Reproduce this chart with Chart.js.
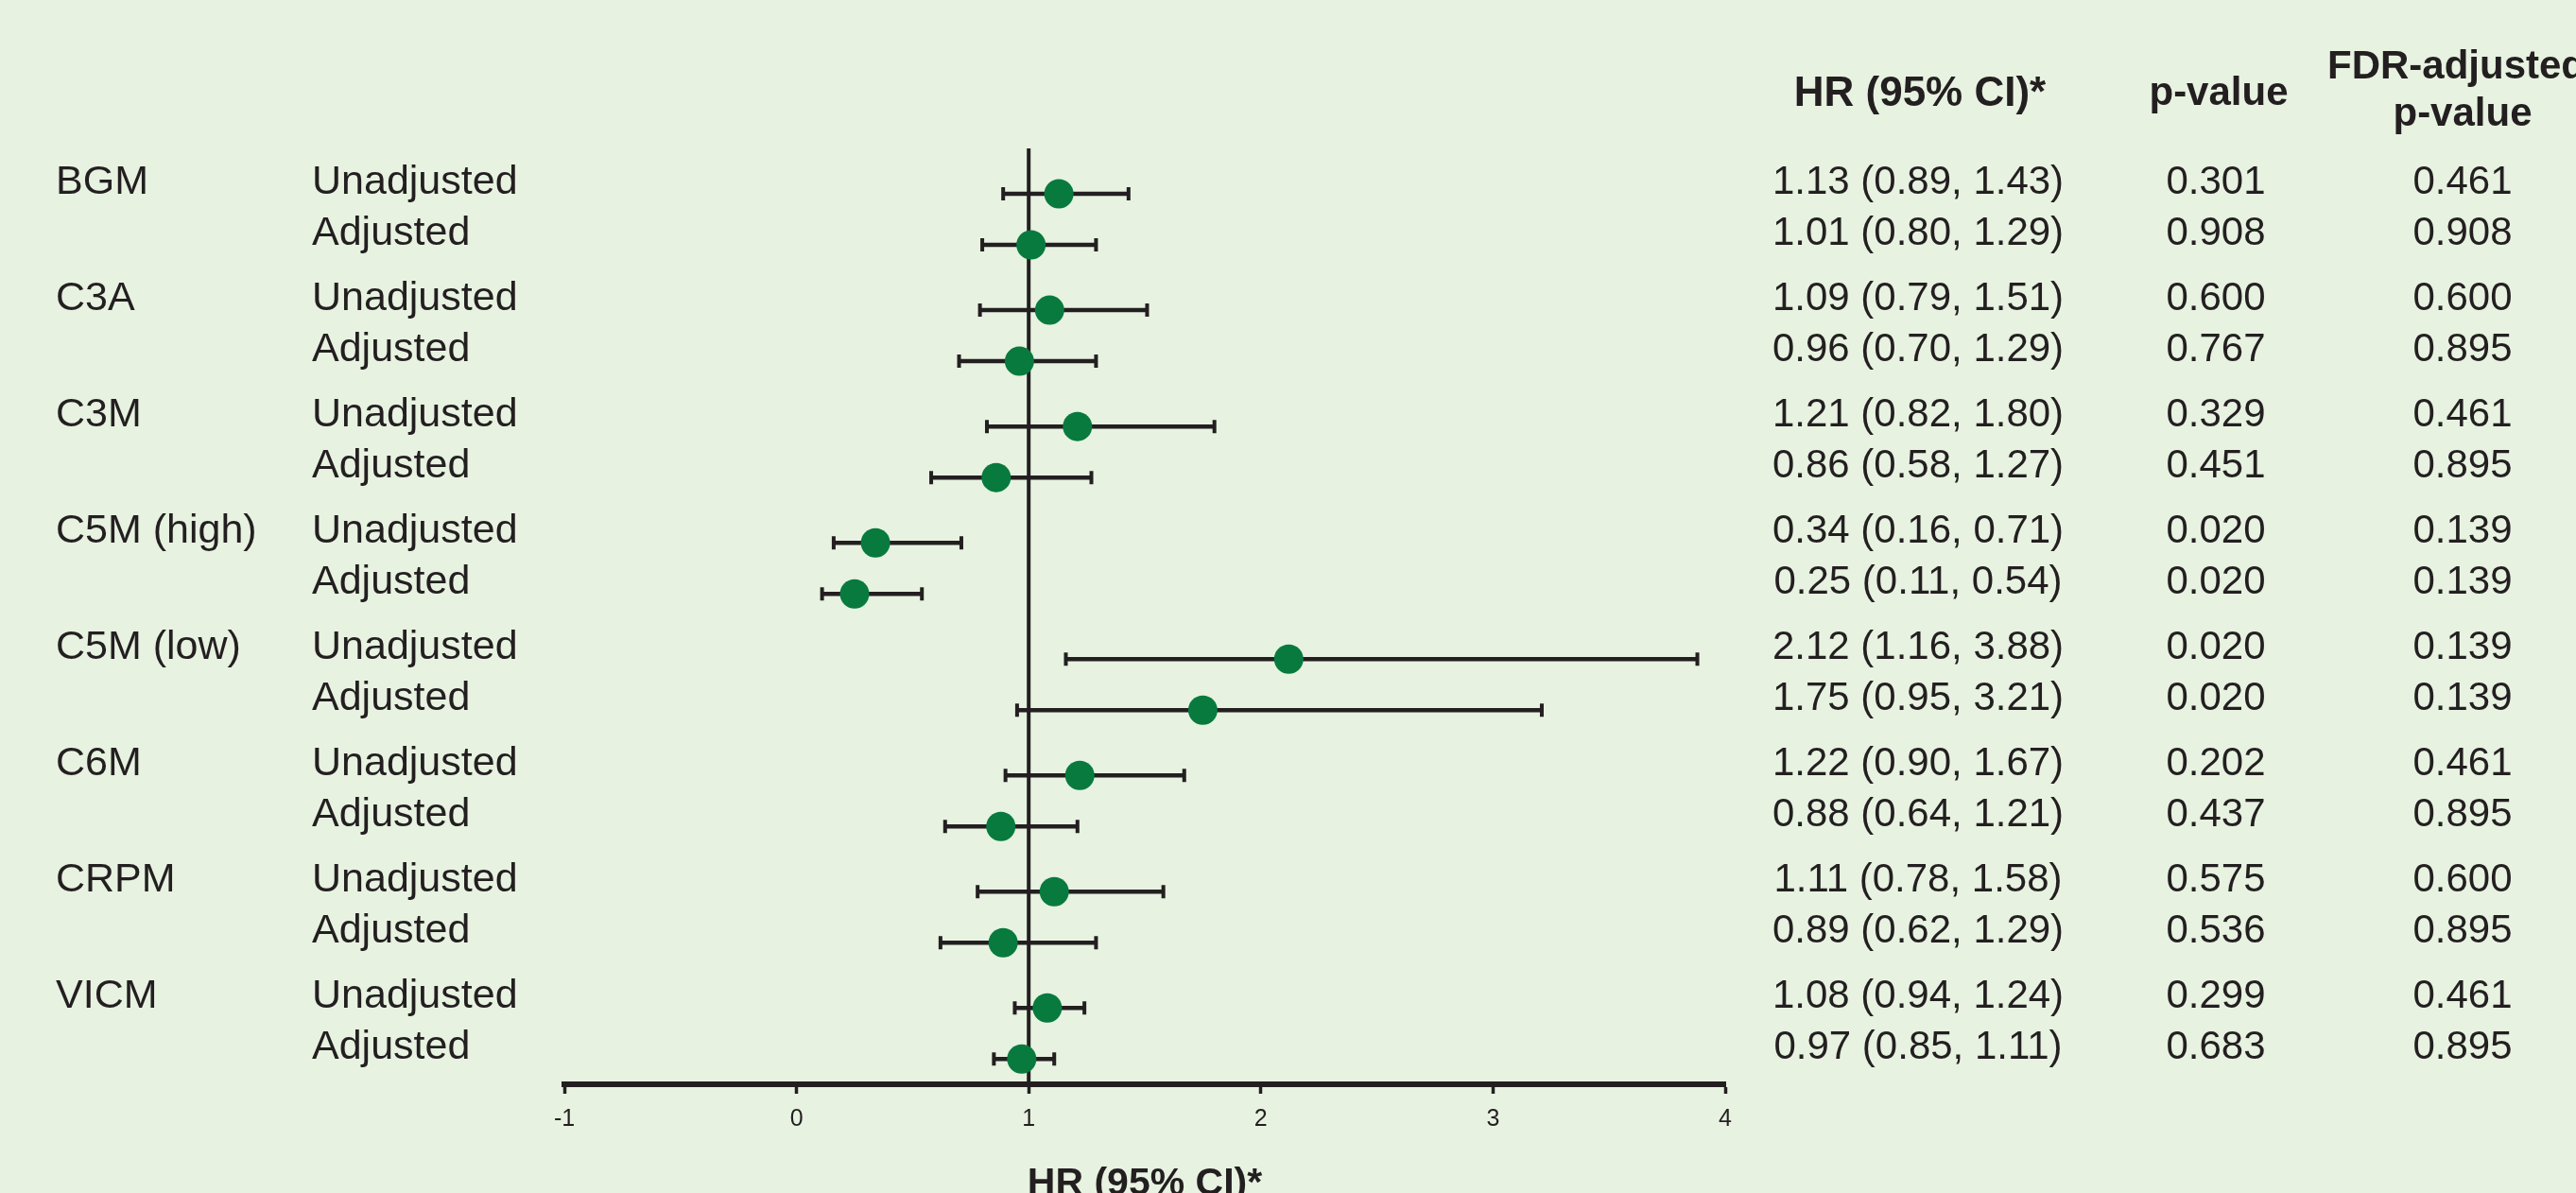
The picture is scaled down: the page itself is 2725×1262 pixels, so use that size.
<!DOCTYPE html>
<html>
<head>
<meta charset="utf-8">
<script src="https://cdn.jsdelivr.net/npm/chart.js@4"></script>
<style>
  body { margin: 0; background: #e7f2e1; }
  canvas { display: block; }
</style>
</head>
<body>
<canvas id="forest" width="2725" height="1262"></canvas>
<script>
"use strict"
// forest plot data
var groups = ["BGM", "C3A", "C3M", "C5M (high)", "C5M (low)", "C6M", "CRPM", "VICM"];
var models = ["Unadjusted", "Adjusted"];
var hr    = [1.13, 1.01, 1.09, 0.96, 1.21, 0.86, 0.34, 0.25, 2.12, 1.75, 1.22, 0.88, 1.11, 0.89, 1.08, 0.97];
var lower = [0.89, 0.80, 0.79, 0.70, 0.82, 0.58, 0.16, 0.11, 1.16, 0.95, 0.90, 0.64, 0.78, 0.62, 0.94, 0.85];
var upper = [1.43, 1.29, 1.51, 1.29, 1.80, 1.27, 0.71, 0.54, 3.88, 3.21, 1.67, 1.21, 1.58, 1.29, 1.24, 1.11];
var pValue = ["0.301", "0.908", "0.600", "0.767", "0.329", "0.451", "0.020", "0.020", "0.020", "0.020", "0.202", "0.437", "0.575", "0.536", "0.299", "0.683"];
var fdrValue = ["0.461", "0.908", "0.600", "0.895", "0.461", "0.895", "0.139", "0.139", "0.139", "0.139", "0.461", "0.895", "0.600", "0.895", "0.461", "0.895"];
var xTicks = [-1, 0, 1, 2, 3, 4];

var ink = "#231f20";
var green = "#087a3e";
var font = "'Liberation Sans', Arial, sans-serif";

// row layout: two rows per marker, wider gap between markers
var rowY = [];
hr.forEach(function(v, i) {
  rowY.push(Math.floor(i / 2) * 2.278 + (i % 2));
});

function fmt(v) { return v.toFixed(2); }

var forestPlugin = {
  id: "forest",
  beforeDraw: function(chart) {
    var ctx = chart.ctx;
    ctx.save();
    ctx.fillStyle = "#e7f2e1";
    ctx.fillRect(0, 0, chart.width, chart.height);
    ctx.restore();
  },
  beforeDatasetsDraw: function(chart) {
    var ctx = chart.ctx, xs = chart.scales.x, ys = chart.scales.y;
    var area = chart.chartArea;
    ctx.save();
    ctx.strokeStyle = ink;
    // line of no effect at HR = 1
    ctx.lineWidth = 4;
    ctx.beginPath();
    ctx.moveTo(xs.getPixelForValue(1), area.top);
    ctx.lineTo(xs.getPixelForValue(1), area.bottom);
    ctx.stroke();
    // confidence intervals with end caps
    hr.forEach(function(v, i) {
      var y = ys.getPixelForValue(rowY[i]);
      var x0 = xs.getPixelForValue(lower[i]);
      var x1 = xs.getPixelForValue(upper[i]);
      ctx.lineWidth = 4.5;
      ctx.beginPath();
      ctx.moveTo(x0, y);
      ctx.lineTo(x1, y);
      ctx.stroke();
      ctx.lineWidth = 4;
      ctx.beginPath();
      ctx.moveTo(x0, y - 7);
      ctx.lineTo(x0, y + 7);
      ctx.moveTo(x1, y - 7);
      ctx.lineTo(x1, y + 7);
      ctx.stroke();
    });
    ctx.restore();
  },
  afterDraw: function(chart) {
    var ctx = chart.ctx, ys = chart.scales.y;
    ctx.save();
    ctx.fillStyle = ink;
    ctx.textBaseline = "alphabetic";
    // column headers
    ctx.font = "bold 44px " + font;
    ctx.textAlign = "center";
    ctx.fillText("HR (95% CI)*", 2031, 112);
    ctx.font = "bold 42px " + font;
    ctx.fillText("p-value", 2347, 111);
    ctx.fillText("p-value", 2605, 133);
    ctx.textAlign = "left";
    ctx.fillText("FDR-adjusted", 2462, 83);
    // rows
    hr.forEach(function(v, i) {
      var y = ys.getPixelForValue(rowY[i]);
      ctx.font = "43px " + font;
      ctx.textAlign = "left";
      if (i % 2 === 0) ctx.fillText(groups[i / 2], 59, y);
      ctx.fillText(models[i % 2], 330, y);
      ctx.font = "42px " + font;
      ctx.textAlign = "center";
      ctx.fillText(fmt(v) + " (" + fmt(lower[i]) + ", " + fmt(upper[i]) + ")", 2029, y);
      ctx.fillText(pValue[i], 2344, y);
      ctx.fillText(fdrValue[i], 2605, y);
    });
    ctx.restore();
  }
};

var forestChart = new Chart(document.getElementById("forest"), {
  type: "scatter",
  data: {
    datasets: [{
      data: hr.map(function(v, i) { return {x: v, y: rowY[i]}; }),
      backgroundColor: green,
      borderWidth: 0,
      pointRadius: 15.5,
      pointHoverRadius: 15.5
    }]
  },
  options: {
    responsive: false,
    animation: false,
    events: [],
    layout: { padding: { left: 597, right: 900, top: 157, bottom: 0 } },
    plugins: { legend: { display: false }, tooltip: { enabled: false } },
    scales: {
      x: {
        type: "linear",
        min: -1,
        max: 4,
        afterBuildTicks: function(scale) {
          scale.ticks = xTicks.map(function(v) { return {value: v}; });
        },
        afterFit: function(scale) { scale.height = 115; },
        grid: { drawOnChartArea: false, drawTicks: true, tickLength: 10, tickWidth: 3.5, tickColor: ink },
        border: { display: true, width: 6, color: ink },
        ticks: { color: ink, font: { family: font, size: 25 }, padding: 12, maxRotation: 0 },
        title: {
          display: true,
          text: "HR (95% CI)*",
          color: ink,
          font: { family: font, size: 41, weight: "bold", lineHeight: "18px" },
          padding: { top: 0, bottom: 0 }
        }
      },
      y: {
        type: "linear",
        display: false,
        reverse: true,
        min: -0.89,
        max: 17.44
      }
    }
  },
  plugins: [forestPlugin]
});
</script>
</body>
</html>
